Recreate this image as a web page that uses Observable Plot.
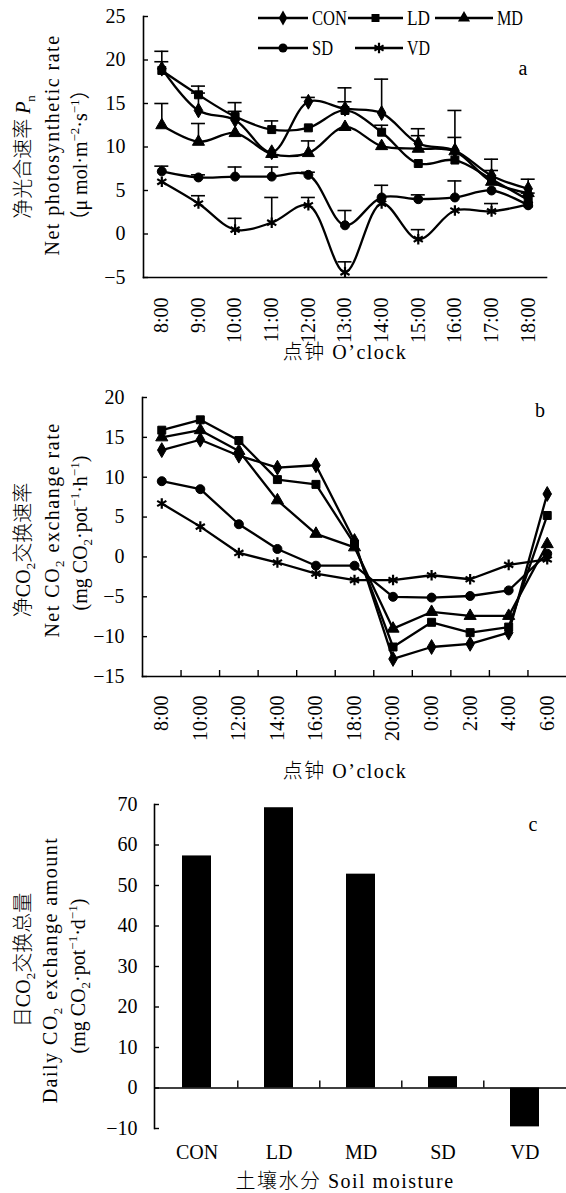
<!DOCTYPE html>
<html><head><meta charset="utf-8">
<script src="https://cdn.jsdelivr.net/npm/d3@7"></script>
<script src="https://cdn.jsdelivr.net/npm/@observablehq/plot@0.6"></script>
<style>
body{margin:0;background:#fff;}
#root{position:relative;width:566px;height:1193px;overflow:hidden;font-family:"Liberation Serif","Noto Sans CJK SC",serif;color:#000;background:#fff;}
.panel{position:absolute;left:0;}
.vt,.ht{position:absolute;white-space:nowrap;font-size:20px;line-height:1;}
.vt{transform:translate(-50%,-50%) rotate(-90deg);}
.ht{transform:translate(-50%,-50%);}
.en{letter-spacing:1.5px;}
.cjk{font-family:"Noto Sans CJK SC",sans-serif;font-weight:300;}
sub,sup{font-size:13px;line-height:0;}
</style></head><body><div id="root"></div>
<script>
// ---------- Panel a: net photosynthetic rate ----------
const timesA = ["8:00","9:00","10:00","11:00","12:00","13:00","14:00","15:00","16:00","17:00","18:00"];
const pnCON = [19.0,14.2,13.1,9.4,15.2,14.4,13.9,10.4,9.6,6.7,5.2];
const pnLD  = [18.8,16.0,13.5,12.0,12.2,14.2,11.7,8.1,8.5,6.3,3.9];
const pnMD  = [12.5,10.6,11.6,9.2,9.3,12.3,10.1,9.8,9.5,6.0,4.7];
const pnSD  = [7.2,6.5,6.6,6.6,6.8,1.0,4.2,4.0,4.2,5.0,3.3];
const pnVD  = [6.0,3.5,0.5,1.3,3.3,-4.4,3.5,-0.6,2.7,2.6,3.4];
const errCON = [2.0,2.0,1.0,0,0.5,2.4,3.9,1.7,4.6,1.9,1.1];
const errLD  = [1.0,1.0,1.6,1.0,0,1.0,0.8,0,0,1.0,0.8];
const errMD  = [2.5,2.1,0,0,1.4,0,0,1.5,1.6,0,0];
const errSD  = [0.6,0.3,1.1,1.1,0.3,1.7,1.4,0.5,1.9,0,0];
const errVD  = [0,0.9,1.3,2.9,0.9,1.2,0,1.1,0,0.9,0];
const yTicksA = [-5,0,5,10,15,20,25];

// ---------- Panel b: net CO2 exchange rate ----------
const timesB = ["8:00","10:00","12:00","14:00","16:00","18:00","20:00","0:00","2:00","4:00","6:00"];
const ceCON = [13.4,14.7,12.7,11.2,11.5,2.0,-12.8,-11.3,-10.9,-9.5,7.9];
const ceLD  = [15.9,17.2,14.6,9.7,9.1,1.6,-11.3,-8.2,-9.5,-8.8,5.2];
const ceMD  = [15.0,15.9,13.3,7.1,2.9,1.2,-9.0,-6.9,-7.4,-7.4,1.6];
const ceSD  = [9.5,8.5,4.1,1.0,-1.1,-1.1,-5.0,-5.1,-4.9,-4.2,0.4];
const ceVD  = [6.7,3.8,0.5,-0.7,-2.1,-2.9,-2.9,-2.3,-2.8,-1.0,-0.3];
const yTicksB = [-15,-10,-5,0,5,10,15,20];

// ---------- Panel c: daily CO2 exchange amount ----------
const treatments = ["CON","LD","MD","SD","VD"];
const dailyCE = [57.3,69.2,52.8,2.8,-9.6];
const yTicksC = [-10,0,10,20,30,40,50,60,70];

const FONT = '"Liberation Serif","Noto Sans CJK SC",serif';
const markers = {CON:"diamond", LD:"square", MD:"triangle", SD:"circle", VD:"asterisk"};
const fmt = d => d < 0 ? "\u2212" + (-d) : String(d);
const root = document.getElementById("root");

function longData(names, vals, errs){
  return names.flatMap((n,k) => vals[k].map((v,i) => ({series:n, i, v, e: errs ? errs[k][i] : 0})));
}
function symbolMarks(data){
  return treatments.map(name => {
    const sub = data.filter(d => d.series === name);
    const sym = markers[name];
    return sym === "asterisk"
      ? Plot.dot(sub, {x:"i", y:"v", symbol:sym, r:5, stroke:"black", strokeWidth:2.2})
      : Plot.dot(sub, {x:"i", y:"v", symbol:sym, r:4.5, fill:"black", stroke:"black", strokeWidth:1});
  });
}
function addPanel(top, svg){
  const d = document.createElement("div");
  d.className = "panel"; d.style.top = top + "px";
  d.appendChild(svg); root.appendChild(d);
}
function addText(cls, x, y, html){
  const d = document.createElement("div");
  d.className = cls; d.style.left = x + "px"; d.style.top = y + "px";
  d.innerHTML = html; root.appendChild(d);
}
const baseStyle = {fontFamily: FONT, fontSize: "20px", color: "#000", background: "transparent", overflow: "visible"};

// ---- Panel a ----
const dataA = longData(treatments, [pnCON,pnLD,pnMD,pnSD,pnVD], [errCON,errLD,errMD,errSD,errVD]);
const errA = dataA.filter(d => d.e > 0);
const idxA = timesA.map((_, i) => i);
const plotA = Plot.plot({
  width: 566, height: 370,
  marginTop: 16, marginBottom: 93, marginLeft: 143, marginRight: 20,
  x: {domain: [-0.5, timesA.length - 0.5], label: null},
  y: {domain: [yTicksA[0], yTicksA[yTicksA.length-1]], label: null},
  style: baseStyle,
  marks: [
    Plot.frame({anchor: "left", strokeWidth: 1.6}),
    Plot.frame({anchor: "bottom", strokeWidth: 1.6}),
    Plot.axisY({ticks: yTicksA, tickSize: 0, tickPadding: 18, tickFormat: fmt, label: null}),
    Plot.axisY({ticks: yTicksA, tickSize: -5, tickFormat: () => "", label: null, strokeWidth: 1.4}),
    Plot.axisX({ticks: idxA, tickSize: 0, tickRotate: -90, tickPadding: 20, tickFormat: i => timesA[i], label: null, style: {letterSpacing: "1.5px"}}),
    Plot.ruleX(errA, {x: "i", y1: "v", y2: d => d.v + d.e, strokeWidth: 1.6}),
    Plot.ruleY(errA, {y: d => d.v + d.e, x1: "i", x2: "i", insetLeft: -7, insetRight: -7, strokeWidth: 1.6}),
    Plot.line(dataA, {x: "i", y: "v", z: "series", curve: "catmull-rom", stroke: "black", strokeWidth: 2.3}),
    ...symbolMarks(dataA)
  ]
});
addPanel(0, plotA);

// legend for panel a
const legendItems = [
  {name:"CON", row:0, x0:258, x1:308, w:35},
  {name:"LD",  row:0, x0:348, x1:403, w:23},
  {name:"MD",  row:0, x0:435, x1:493, w:26},
  {name:"SD",  row:1, x0:258, x1:308, w:21},
  {name:"VD",  row:1, x0:355, x1:403, w:23}
];
const legRows = [18, 48];
const d3sym = {diamond: d3.symbolDiamond, square: d3.symbolSquare, triangle: d3.symbolTriangle, circle: d3.symbolCircle, asterisk: d3.symbolAsterisk};
const leg = d3.select(root).append("svg").attr("width", 566).attr("height", 70)
  .style("position","absolute").style("left","0px").style("top","0px");
legendItems.forEach(it => {
  const y = legRows[it.row];
  const g = leg.append("g");
  g.append("line").attr("x1", it.x0).attr("x2", it.x1).attr("y1", y).attr("y2", y).attr("stroke","black").attr("stroke-width",2.3);
  const sym = markers[it.name];
  const p = g.append("path").attr("transform", `translate(${(it.x0+it.x1)/2},${y})`)
    .attr("d", d3.symbol(d3sym[sym], Math.PI * (sym === "asterisk" ? 25 : 20.25))());
  if (sym === "asterisk") p.attr("fill","none").attr("stroke","black").attr("stroke-width",2.2);
  else p.attr("fill","black");
  g.append("text").attr("x", it.x1 + 4).attr("y", y).attr("dy","0.35em")
    .attr("font-family", FONT).attr("font-size", 20)
    .attr("textLength", it.w).attr("lengthAdjust", "spacingAndGlyphs").text(it.name);
});

addText("vt", 22, 157, '<span class="cjk">净光合速率</span> <i>P</i><sub>n</sub>');
addText("vt en", 52, 145, 'Net photosynthetic rate');
addText("vt", 80, 155, '（μ mol·m<sup>−2</sup>·s<sup>−1</sup>）');
addText("ht en", 345, 351, '<span class="cjk">点钟</span> O\u2019clock');
addText("ht", 523, 68, 'a');

// ---- Panel b ----
const dataB = longData(treatments, [ceCON,ceLD,ceMD,ceSD,ceVD], null);
const idxB = timesB.map((_, i) => i);
const boundsB = idxB.slice(1).map(i => i - 0.5);
const plotB = Plot.plot({
  width: 566, height: 400,
  marginTop: 17, marginBottom: 104, marginLeft: 142, marginRight: 0,
  x: {domain: [-0.5, timesB.length - 0.5], label: null},
  y: {domain: [yTicksB[0], yTicksB[yTicksB.length-1]], label: null},
  style: baseStyle,
  marks: [
    Plot.frame({anchor: "left", strokeWidth: 1.6}),
    Plot.frame({anchor: "bottom", strokeWidth: 1.6}),
    Plot.axisY({ticks: yTicksB, tickSize: 0, tickPadding: 18, tickFormat: fmt, label: null}),
    Plot.axisY({ticks: yTicksB, tickSize: -5, tickFormat: () => "", label: null, strokeWidth: 1.4}),
    Plot.axisX({ticks: boundsB, tickSize: -6, tickFormat: () => "", label: null, strokeWidth: 1.4}),
    Plot.axisX({ticks: idxB, tickSize: 0, tickRotate: -90, tickPadding: 19, tickFormat: i => timesB[i], label: null, style: {letterSpacing: "1.5px"}}),
    Plot.line(dataB, {x: "i", y: "v", z: "series", stroke: "black", strokeWidth: 2.3}),
    ...symbolMarks(dataB)
  ]
});
addPanel(380, plotB);

addText("vt", 22, 550, '<span class="cjk">净</span>CO<sub>2</sub><span class="cjk">交换速率</span>');
addText("vt en", 52, 530, 'Net CO<sub>2</sub> exchange rate');
addText("vt", 80, 533, '(mg CO<sub>2</sub>·pot<sup>−1</sup>·h<sup>−1</sup>)');
addText("ht en", 345, 770, '<span class="cjk">点钟</span> O\u2019clock');
addText("ht", 540, 410, 'b');

// ---- Panel c ----
const dataC = treatments.map((t, k) => ({t, v: dailyCE[k]}));
const stepC = (566 - 154 - 0) / treatments.length;
const plotC = Plot.plot({
  width: 566, height: 413,
  marginTop: 24, marginBottom: 65, marginLeft: 154, marginRight: 0,
  x: {domain: treatments, paddingInner: 0.65, paddingOuter: 0.325, label: null},
  y: {domain: [yTicksC[0], yTicksC[yTicksC.length-1]], label: null},
  style: baseStyle,
  marks: [
    Plot.barY(dataC, {x: "t", y: "v", fill: "black"}),
    Plot.frame({anchor: "left", strokeWidth: 1.6}),
    Plot.ruleY([0], {strokeWidth: 1.6}),
    Plot.ruleX(treatments.slice(1), {x: d => d, y1: 0, y2: 0, insetTop: -7, dx: -stepC/2, strokeWidth: 1.4}),
    Plot.axisY({ticks: yTicksC, tickSize: 0, tickPadding: 17, tickFormat: fmt, label: null}),
    Plot.axisY({ticks: yTicksC, tickSize: -5, tickFormat: () => "", label: null, strokeWidth: 1.4}),
    Plot.axisX({tickSize: 0, tickPadding: 16, label: null})
  ]
});
addPanel(780, plotC);

addText("vt", 22, 960, '<span class="cjk">日</span>CO<sub>2</sub><span class="cjk">交换总量</span>');
addText("vt en", 50, 970, 'Daily CO<sub>2</sub> exchange amount');
addText("vt", 78, 976, '(mg CO<sub>2</sub>·pot<sup>−1</sup>·d<sup>−1</sup>)');
addText("ht en", 345, 1180, '<span class="cjk">土壤水分</span> Soil moisture');
addText("ht", 533, 824, 'c');
</script>
</body></html>
